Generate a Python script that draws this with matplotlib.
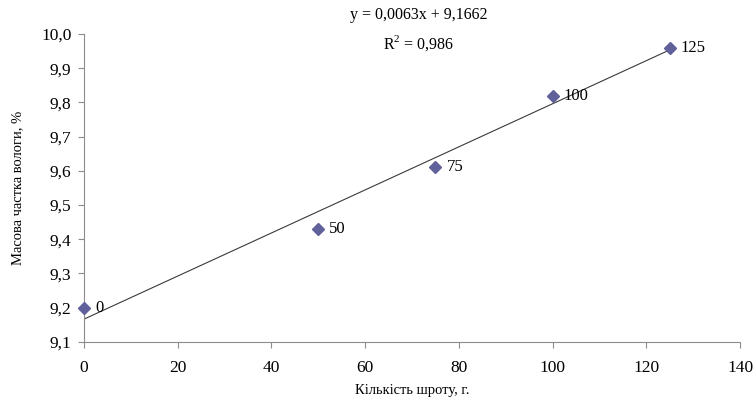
import numpy as np
import matplotlib.pyplot as plt
from matplotlib.ticker import FuncFormatter

plt.rcParams['font.family'] = ['Liberation Serif', 'DejaVu Serif']

# data
shrot_g = [0, 50, 75, 100, 125]
moisture = [9.20, 9.43, 9.61, 9.82, 9.96]
point_labels = ['0', '50', '75', '100', '125']
slope, intercept = 0.0063, 9.1662
r2 = 0.986

fig = plt.figure(figsize=(7.56, 4.05), dpi=100)
ax = fig.add_axes([0.111, 0.156, 0.868, 0.760])

# trend line
xt = np.array([shrot_g[0], shrot_g[-1]])
ax.plot(xt, slope * xt + intercept, color='#3a3a3a', lw=0.8, zorder=2)

ax.plot(shrot_g, moisture, linestyle='none', marker='D', markersize=6,
        color='#60609a', zorder=3, clip_on=False)
for x, y, lab in zip(shrot_g, moisture, point_labels):
    ax.annotate(lab, (x, y), xytext=(8, 0), textcoords='offset points',
                va='center', ha='left', fontsize=12)

ax.set_xlim(0, 140)
ax.set_ylim(9.1, 10.0)
ax.set_xticks(np.arange(0, 141, 20))
ax.set_yticks(np.arange(9.1, 10.01, 0.1))
ax.yaxis.set_major_formatter(FuncFormatter(lambda v, p: f'{v:.1f}'.replace('.', ',')))

for s in ['top', 'right']:
    ax.spines[s].set_visible(False)
for s in ['left', 'bottom']:
    ax.spines[s].set_color('#8c8c8c')
ax.tick_params(axis='both', colors='#8c8c8c', labelcolor='black', labelsize=12.5,
               length=4, direction='out')
ax.tick_params(axis='x', pad=9)
ax.tick_params(axis='y', pad=5)

ax.set_xlabel('Кількість шроту, г.', fontsize=10.5, labelpad=6)
ax.set_ylabel('Масова частка вологи, %', fontsize=10.5, labelpad=12)

fig.text(419 / 756, 1 - 15 / 405,
         f'y = {slope:.4f}x + {intercept:.4f}'.replace('.', ','),
         ha='center', va='center', fontsize=11.5)
fig.text(419 / 756, 1 - 43 / 405,
         f'R$^{{\\mathregular{{2}}}}$ = {r2:.3f}'.replace('.', ','),
         ha='center', va='center', fontsize=11.5)

fig.savefig('out.png', dpi=100)
